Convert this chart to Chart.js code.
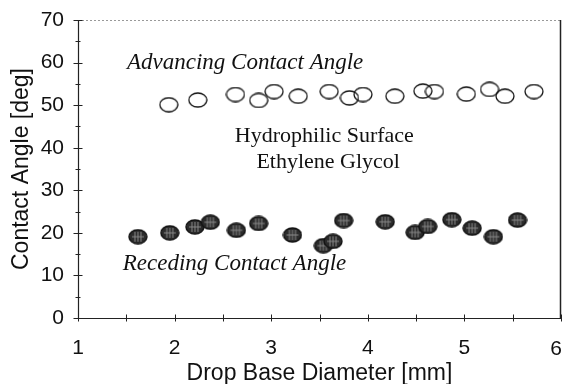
<!DOCTYPE html>
<html>
<head>
<meta charset="utf-8">
<script src="https://cdn.jsdelivr.net/npm/chart.js@4/dist/chart.umd.min.js"></script>
<style>
  html, body { margin: 0; padding: 0; background: #fff; }
  #wrap { width: 563px; height: 384px; }
</style>
</head>
<body>
<div id="wrap"><canvas id="chart" width="563" height="384"></canvas></div>
<script>
// --- DATA ---
const advX = [1.94, 2.24, 2.63, 2.87, 3.03, 3.28, 3.60, 3.81, 3.95, 4.28, 4.57, 4.69, 5.02, 5.26, 5.42, 5.72];
const advY = [50.1, 51.2, 52.5, 51.1, 53.2, 52.1, 53.2, 51.7, 52.5, 52.1, 53.3, 53.2, 52.6, 53.7, 52.1, 53.2];
const recX = [1.62, 1.95, 2.21, 2.37, 2.64, 2.87, 3.22, 3.54, 3.64, 3.75, 4.18, 4.49, 4.62, 4.87, 5.08, 5.30, 5.55];
const recY = [19.1, 20.0, 21.4, 22.5, 20.6, 22.2, 19.5, 17.0, 18.0, 22.9, 22.6, 20.1, 21.5, 23.1, 21.1, 19.1, 23.0];
const xTicks = [1, 2, 3, 4, 5, 6];
const yTicks = [0, 10, 20, 30, 40, 50, 60, 70];

// text notes placed in data units
const notes = [
  { text: 'Advancing Contact Angle', x: 2.73, y: 60.0, italic: true },
  { text: 'Hydrophilic Surface', x: 3.55, y: 42.6, italic: false },
  { text: 'Ethylene Glycol', x: 3.59, y: 36.7, italic: false },
  { text: 'Receding Contact Angle', x: 2.62, y: 12.8, italic: true }
];

// --- MARKERS ---
function makeMarker(filled) {
  const w = 20, h = 16;
  const c = document.createElement('canvas');
  c.width = w; c.height = h;
  const g = c.getContext('2d');
  const outline = () => {
    g.beginPath();
    g.ellipse(w / 2, h / 2, 9, 7, 0, 0, Math.PI * 2);
  };
  outline();
  if (filled) {
    g.fillStyle = '#2b2b2b';
    g.fill();
    g.save();
    g.clip();
    // little hatch pattern like the scanned symbols
    g.strokeStyle = '#8a8a8a';
    g.lineWidth = 1;
    [7, 10, 13].forEach(px => { g.beginPath(); g.moveTo(px, 3); g.lineTo(px, h - 3); g.stroke(); });
    g.beginPath(); g.moveTo(4, 8); g.lineTo(w - 4, 8); g.stroke();
    g.restore();
    outline();
    g.strokeStyle = '#111';
    g.lineWidth = 1.4;
    g.stroke();
  } else {
    g.strokeStyle = '#111';
    g.lineWidth = 1.3;
    g.stroke();
  }
  return c;
}

function toPoints(xs, ys) {
  return xs.map((x, i) => ({ x: x, y: ys[i] }));
}

const sans = '"Liberation Sans", Arial, sans-serif';
const tickFont = { family: sans, size: 21 };
const titleFont = { family: sans, size: 23 };
const lastX = xTicks[xTicks.length - 1];

// --- PLUGIN: frame, crossing ticks, last x label and notes ---
const framePlugin = {
  id: 'frame',
  afterLayout(chart) {
    // let the plot run right up to the edge, like the original figure
    const a = chart.chartArea;
    const xs = chart.scales.x;
    const r = chart.width - 2;
    a.right = r; a.width = r - a.left;
    xs.right = r; xs.width = r - xs.left;
    xs.configure();
    xs._labelItems = null;
  },
  afterDraw(chart) {
    const ctx = chart.ctx;
    const a = chart.chartArea;
    const xs = chart.scales.x, ys = chart.scales.y;
    ctx.save();
    // top dotted line and right edge
    ctx.strokeStyle = '#999';
    ctx.lineWidth = 1;
    ctx.setLineDash([2, 2]);
    ctx.beginPath(); ctx.moveTo(a.left, a.top + 0.5); ctx.lineTo(a.right, a.top + 0.5); ctx.stroke();
    ctx.setLineDash([]);
    ctx.strokeStyle = '#222';
    ctx.lineWidth = 1.5;
    ctx.beginPath(); ctx.moveTo(a.right - 0.5, a.top); ctx.lineTo(a.right - 0.5, a.bottom); ctx.stroke();
    // left and bottom axis lines
    ctx.lineWidth = 1.2;
    ctx.beginPath(); ctx.moveTo(a.left + 0.5, a.top); ctx.lineTo(a.left + 0.5, a.bottom); ctx.stroke();
    ctx.beginPath(); ctx.moveTo(a.left, a.bottom + 0.5); ctx.lineTo(a.right, a.bottom + 0.5); ctx.stroke();
    // ticks crossing the axes
    ctx.lineWidth = 1;
    for (let v = 0; v <= 70; v += 5) {
      const py = Math.round(ys.getPixelForValue(v)) + 0.5;
      const len = v % 10 === 0 ? 4.5 : 2.5;
      ctx.beginPath(); ctx.moveTo(a.left - len, py); ctx.lineTo(a.left + len, py); ctx.stroke();
    }
    for (let v = 1; v <= 6; v += 0.5) {
      const px = Math.round(xs.getPixelForValue(v)) + 0.5;
      ctx.beginPath(); ctx.moveTo(px, a.bottom - 3.5); ctx.lineTo(px, a.bottom + 3.5); ctx.stroke();
    }
    // last x label sits flush with the right edge
    ctx.fillStyle = '#111';
    ctx.font = tickFont.size + 'px ' + sans;
    ctx.textAlign = 'right';
    ctx.textBaseline = 'middle';
    ctx.fillText(String(lastX), chart.width - 1, 349);
    // notes
    ctx.textAlign = 'center';
    notes.forEach(n => {
      ctx.font = (n.italic ? 'italic 23px ' : '22px ') + '"Liberation Serif", "Times New Roman", serif';
      ctx.fillText(n.text, xs.getPixelForValue(n.x), ys.getPixelForValue(n.y));
    });
    ctx.restore();
  }
};

new Chart(document.getElementById('chart'), {
  type: 'scatter',
  data: {
    datasets: [
      { label: 'Advancing', data: toPoints(advX, advY), pointStyle: makeMarker(false) },
      { label: 'Receding', data: toPoints(recX, recY), pointStyle: makeMarker(true) }
    ]
  },
  options: {
    responsive: false,
    animation: false,
    layout: { padding: { left: 0, right: 2, top: 20, bottom: 0 } },
    plugins: { legend: { display: false }, tooltip: { enabled: false } },
    scales: {
      x: {
        type: 'linear', min: 1, max: 6,
        afterBuildTicks: s => { s.ticks = xTicks.map(v => ({ value: v })); },
        afterFit: s => { s.height = 66; s.paddingLeft = 0; s.paddingRight = 0; },
        grid: { display: false, drawTicks: false },
        border: { display: false },
        ticks: {
          color: '#111', font: tickFont, padding: 18, maxRotation: 0,
          // the last label is drawn by the plugin, flush right
          callback: v => (v === lastX ? '' : String(v))
        },
        title: { display: true, text: 'Drop Base Diameter [mm]', color: '#111', font: titleFont, padding: { top: 0, bottom: -3 } }
      },
      y: {
        type: 'linear', min: 0, max: 70,
        afterBuildTicks: s => { s.ticks = yTicks.map(v => ({ value: v })); },
        afterFit: s => { s.width = 78; s.paddingTop = 0; s.paddingBottom = 0; },
        grid: { display: false, drawTicks: false },
        border: { display: false },
        ticks: { color: '#111', font: tickFont, padding: 14 },
        title: { display: true, text: 'Contact Angle [deg]', color: '#111', font: titleFont, padding: { top: 8, bottom: 0 } }
      }
    }
  },
  plugins: [framePlugin]
});
</script>
</body>
</html>
